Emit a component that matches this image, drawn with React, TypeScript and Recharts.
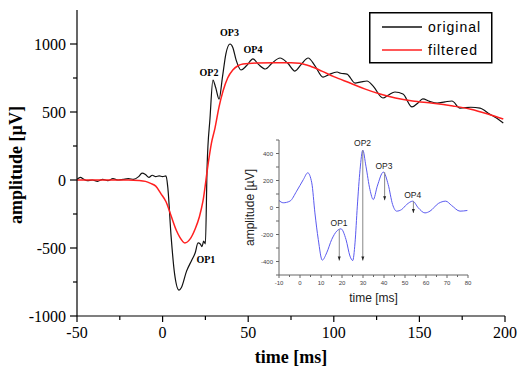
import { LineChart, Line, XAxis, YAxis, ReferenceDot, ReferenceLine, Legend } from "recharts";

// main recording (time in ms, amplitude in µV)
const originalTime = [
  -50, -48, -46, -44, -41, -38, -35, -32, -29, -26, -23, -20, -17, -14, -12, -10, -8, -6, -4, -2, 0, 2, 3, 5, 7,
  9.6, 11, 14, 17, 19, 20.7, 22, 23, 24, 25, 26, 27.7, 29.4, 31, 33, 35, 37, 39.4, 41, 43, 45.8, 49, 52.8, 56,
  60, 64, 68.6, 73, 77.3, 81, 85, 89, 93.7, 97, 101.9, 104, 107.7, 112.4, 116, 119.4, 123, 128.7, 132, 135.7,
  140.4, 145.7, 149, 152, 156, 160.3, 165, 169, 173.7, 180, 185.4, 191, 195, 199,
];
const originalAmp = [
  5, 20, 5, -5, 0, -10, 5, -5, 10, 0, 5, 10, 5, 25, 50, 40, 20, 35, 25, 30, 25, 30, -50, -420, -690,
  -810, -790, -670, -590, -537, -463, -470, -490, -450, -470, 100, 456, 735, 680, 595, 760, 930, 1000, 975, 880, 809, 840, 890, 850,
  816, 860, 897, 860, 801, 850, 897, 840, 757, 775, 794, 785, 779, 713, 722, 728, 690, 603, 625, 647,
  632, 537, 565, 596, 578, 566, 575, 581, 529, 535, 529, 485, 455, 419,
];

const filteredTime = [
  -50, -20, -14, -10, -7, -4, -1, 2, 5, 8, 10, 13, 16, 19, 21.5, 23.6, 26.5, 28.5, 30.6, 33, 35.3, 38, 41, 44,
  47, 55, 65, 75, 80, 86, 93, 100, 109.5, 118, 127, 136, 146, 158, 169.6, 180, 190, 199,
];
const filteredAmp = [
  0, 0, -3, -10, -25, -45, -100, -160, -265, -370, -420, -463, -435, -360, -270, -154, 110, 270, 382, 540, 654, 750, 809, 840,
  853, 860, 862, 862, 858, 838, 801, 760, 713, 670, 632, 603, 581, 565, 544, 520, 485, 448,
];

// inset: oscillatory potentials
const insetTime = [
  -10, -8, -4.8, -1.6, 1.6, 3.7, 5.6, 7.1, 8.7, 10.6, 12.7, 15.1, 17.5, 19.5, 21.9, 23.8, 25.1, 26.2, 27.3, 28.6,
  29.9, 31.4, 33.3, 34.9, 36.8, 39.7, 42, 44.1, 46, 48.4, 50.8, 53.7, 56.3, 59.5, 61.9, 65.9, 69.4, 72.2, 76.2, 79.7,
];
const insetAmp = [
  52, 35, 47, 121, 207, 257, 183, -40, -237, -390, -336, -237, -175, -158, -237, -360, -393, -262, 10, 281,
  425, 306, 133, 59, 158, 262, 170, 22, -27, -15, 22, 47, -2, -40, -27, 30, 47, 15, -27, -22,
];

const mainXTicks = [-50, -25, 0, 25, 50, 75, 100, 125, 150, 175, 200];
const mainYTicks = [-1000, -750, -500, -250, 0, 250, 500, 750, 1000];
const insetXTicks = [-10, -5, 0, 5, 10, 15, 20, 25, 30, 35, 40, 45, 50, 55, 60, 65, 70, 75, 80];
const insetYTicks = [-500, -400, -300, -200, -100, 0, 100, 200, 300, 400, 500];

const legendOrder = ["original", "filtered"];
const peakNames = ["OP1", "OP2", "OP3", "OP4"];
const mainPeakTime = [25.3, 27.1, 39.1, 52.8];
const mainPeakAmp = [-581, 787, 1088, 956];
const insetPeakTime = [18.6, 29.8, 40, 53.7];
const insetPeakAmp = [-118, 479, 306, 89];
const arrowTime = [18.7, 29.9, 40.3, 54];
const arrowTop = [-163, 424, 262, 47];
const arrowBottom = [-393, -393, 54, -40];

const originalData = originalTime.map((t, i) => ({ t, v: originalAmp[i] }));
const filteredData = filteredTime.map((t, i) => ({ t, v: filteredAmp[i] }));
const insetData = insetTime.map((t, i) => ({ t, v: insetAmp[i] }));

const SERIF = "'Liberation Serif', 'Times New Roman', serif";
const SANS = "'Liberation Sans', Arial, sans-serif";

const MainXTick = (props: any) => {
  const { x, y, payload } = props;
  const major = payload.value % 50 === 0;
  return (
    <g>
      <line x1={x} x2={x} y1={y} y2={y + (major ? 6 : 4)} stroke="#000" strokeWidth={1.2} />
      {major && (
        <text x={x} y={y + 22} textAnchor="middle" fontSize={16} fontFamily={SERIF} fill="#000">
          {payload.value}
        </text>
      )}
    </g>
  );
};

const MainYTick = (props: any) => {
  const { x, y, payload } = props;
  const major = payload.value % 500 === 0;
  return (
    <g>
      <line x1={x} x2={x - (major ? 7 : 4)} y1={y} y2={y} stroke="#000" strokeWidth={1.2} />
      {major && (
        <text x={x - 11} y={y + 5.5} textAnchor="end" fontSize={16} fontFamily={SERIF} fill="#000">
          {payload.value}
        </text>
      )}
    </g>
  );
};

const InsetXTick = (props: any) => {
  const { x, y, payload } = props;
  const major = payload.value % 10 === 0;
  return (
    <g>
      <line x1={x} x2={x} y1={y} y2={y + (major ? 3 : 2)} stroke="#666" />
      {major && (
        <text x={x} y={y + 10} textAnchor="middle" fontSize={6} fontFamily={SANS} fill="#444">
          {payload.value}
        </text>
      )}
    </g>
  );
};

const InsetYTick = (props: any) => {
  const { x, y, payload } = props;
  const labelled = payload.value % 200 === 0;
  return (
    <g>
      <line x1={x} x2={x - 3} y1={y} y2={y} stroke="#666" />
      {labelled && (
        <text x={x - 6} y={y + 2} textAnchor="end" fontSize={6} fontFamily={SANS} fill="#444">
          {payload.value}
        </text>
      )}
    </g>
  );
};

const LegendBox = (props: any) => {
  const items = props.payload || [];
  const rows = legendOrder
    .map((name) => items.find((it: any) => it.value === name))
    .filter(Boolean);
  return (
    <svg width={124} height={52}>
      <rect x={0.75} y={0.75} width={122} height={50} fill="#fff" stroke="#000" strokeWidth={1.5} />
      {rows.map((it: any, i: number) => (
        <g key={i}>
          <line x1={13} x2={53} y1={15 + i * 23} y2={15 + i * 23} stroke={it.color} strokeWidth={1.5} />
          <text x={59} y={20 + i * 23} fontSize={14} letterSpacing={1} fontFamily={SANS} fill="#000">
            {it.value}
          </text>
        </g>
      ))}
    </svg>
  );
};

const Arrow = (props: any) => {
  const { x1, y1, x2, y2 } = props;
  return (
    <g>
      <line x1={x1} y1={y1} x2={x2} y2={y2} stroke="#888" strokeWidth={1} />
      <path d={`M${x2 - 1.5},${y2 - 4} L${x2 + 1.5},${y2 - 4} L${x2},${y2} Z`} fill="#222" />
    </g>
  );
};

export default function App() {
  return (
    <div style={{ position: "absolute", left: 0, top: 0, width: 525, height: 370, background: "#fff" }}>
      <LineChart width={525} height={370} margin={{ top: 10, right: 20, left: 0, bottom: 24 }}>
        <XAxis
          type="number"
          dataKey="t"
          domain={[-50, 200]}
          ticks={mainXTicks}
          interval={0}
          tickSize={0}
          tickMargin={0}
          tick={MainXTick}
          height={30}
          stroke="#000"
          strokeWidth={1.2}
          allowDataOverflow
          label={{
            content: (p: any) => (
              <text
                x={p.viewBox.x + p.viewBox.width / 2}
                y={p.viewBox.y + 47}
                textAnchor="middle"
                fontSize={18}
                fontWeight="bold"
                fontFamily={SERIF}
                fill="#000"
              >
                time [ms]
              </text>
            ),
          }}
        />
        <YAxis
          type="number"
          domain={[-1000, 1250]}
          ticks={mainYTicks}
          interval={0}
          tickSize={0}
          tickMargin={0}
          tick={MainYTick}
          width={77}
          stroke="#000"
          strokeWidth={1.2}
          allowDataOverflow
          label={{
            content: (p: any) => {
              const cy = p.viewBox.y + p.viewBox.height / 2 + 2;
              return (
                <text
                  x={22}
                  y={cy}
                  transform={`rotate(-90 22 ${cy})`}
                  textAnchor="middle"
                  fontSize={18}
                  fontWeight="bold"
                  fontFamily={SERIF}
                  fill="#000"
                >
                  amplitude [µV]
                </text>
              );
            },
          }}
        />
        <Legend
          layout="vertical"
          align="center"
          verticalAlign="middle"
          content={LegendBox}
          wrapperStyle={{ left: 369, top: 12, width: 124, height: 52 }}
        />
        <Line
          data={originalData}
          dataKey="v"
          name="original"
          type="monotone"
          stroke="#111"
          strokeWidth={1.2}
          dot={false}
          isAnimationActive={false}
        />
        <Line
          data={filteredData}
          dataKey="v"
          name="filtered"
          type="monotone"
          stroke="#ff2020"
          strokeWidth={1.5}
          dot={false}
          isAnimationActive={false}
        />
        {peakNames.map((name, i) => (
          <ReferenceDot
            key={name}
            x={mainPeakTime[i]}
            y={mainPeakAmp[i]}
            r={0}
            shape={(p: any) => (
              <text x={p.cx} y={p.cy + 3.5} textAnchor="middle" fontSize={10} fontWeight="bold" fontFamily={SERIF} fill="#000">
                {name}
              </text>
            )}
          />
        ))}
      </LineChart>

      <div style={{ position: "absolute", left: 240, top: 132 }}>
        <LineChart width={235} height={175} margin={{ top: 8, right: 7, left: 0, bottom: 8 }}>
          <XAxis
            type="number"
            dataKey="t"
            domain={[-10, 80]}
            ticks={insetXTicks}
            interval={0}
            tickSize={0}
            tickMargin={0}
            tick={InsetXTick}
            height={24}
            stroke="#666"
            allowDataOverflow
            label={{
              content: (p: any) => (
                <text
                  x={p.viewBox.x + p.viewBox.width / 2}
                  y={p.viewBox.y + 27}
                  textAnchor="middle"
                  fontSize={12}
                  fontFamily={SANS}
                  fill="#222"
                >
                  time [ms]
                </text>
              ),
            }}
          />
          <YAxis
            type="number"
            domain={[-500, 500]}
            ticks={insetYTicks}
            interval={0}
            tickSize={0}
            tickMargin={0}
            tick={InsetYTick}
            width={39}
            stroke="#666"
            allowDataOverflow
            label={{
              content: (p: any) => {
                const cy = p.viewBox.y + p.viewBox.height / 2;
                return (
                  <text
                    x={14}
                    y={cy}
                    transform={`rotate(-90 14 ${cy})`}
                    textAnchor="middle"
                    fontSize={12}
                    fontFamily={SANS}
                    fill="#222"
                  >
                    amplitude [µV]
                  </text>
                );
              },
            }}
          />
          <Line
            data={insetData}
            dataKey="v"
            type="monotone"
            stroke="#5a5af0"
            strokeWidth={1}
            dot={false}
            isAnimationActive={false}
          />
          {peakNames.map((name, i) => (
            <ReferenceLine
              key={"a" + name}
              segment={[
                { x: arrowTime[i], y: arrowTop[i] },
                { x: arrowTime[i], y: arrowBottom[i] },
              ]}
              shape={Arrow}
            />
          ))}
          {peakNames.map((name, i) => (
            <ReferenceDot
              key={name}
              x={insetPeakTime[i]}
              y={insetPeakAmp[i]}
              r={0}
              shape={(p: any) => (
                <text x={p.cx} y={p.cy + 3} textAnchor="middle" fontSize={8.5} fontFamily={SANS} fill="#222">
                  {name}
                </text>
              )}
            />
          ))}
        </LineChart>
      </div>
    </div>
  );
}
